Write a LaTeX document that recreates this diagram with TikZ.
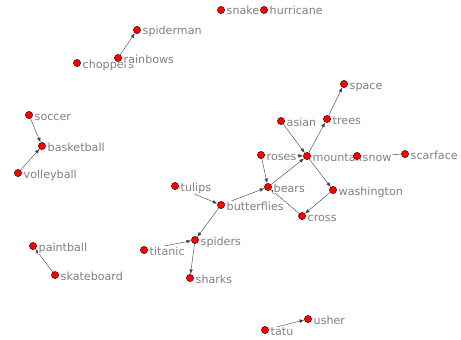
\documentclass[tikz,border=0pt]{standalone}
\usepackage{fontspec}
\setmainfont{DejaVu Sans}
\usetikzlibrary{arrows.meta}
\pgfdeclarelayer{edges}
\pgfdeclarelayer{labels}
\pgfsetlayers{edges,labels,main}

\begin{document}
\begin{tikzpicture}[x=0.03cm,y=-0.03cm,
    vertex/.style={circle,draw=black,fill=red,inner sep=0pt,minimum size=0.22cm,line width=0.3pt},
    word/.style={anchor=base west,fill=white,text=black!50,inner sep=0.4pt,font=\fontsize{9.5}{10}\selectfont},
    link/.style={-{Latex[length=4pt,width=3pt]},draw=black!75,line width=0.35pt}]
    \useasboundingbox (0,0) rectangle (461,339);
    % vertices
    \node[vertex] (snake) at (221,10) {};
    \node[vertex] (hurricane) at (264,10) {};
    \node[vertex] (spiderman) at (137,30) {};
    \node[vertex] (choppers) at (77,63) {};
    \node[vertex] (rainbows) at (118,58) {};
    \node[vertex] (space) at (344,84) {};
    \node[vertex] (trees) at (327,119) {};
    \node[vertex] (asian) at (281,121) {};
    \node[vertex] (mountain) at (307,156) {};
    \node[vertex] (roses) at (261,155) {};
    \node[vertex] (snow) at (357,156) {};
    \node[vertex] (scarface) at (405,154) {};
    \node[vertex] (bears) at (268,187) {};
    \node[vertex] (washington) at (333,190) {};
    \node[vertex] (tulips) at (175,186) {};
    \node[vertex] (butterflies) at (221,205) {};
    \node[vertex] (cross) at (302,216) {};
    \node[vertex] (soccer) at (29,115) {};
    \node[vertex] (basketball) at (42,146) {};
    \node[vertex] (volleyball) at (18,173) {};
    \node[vertex] (paintball) at (33,246) {};
    \node[vertex] (skateboard) at (55,275) {};
    \node[vertex] (titanic) at (144,250) {};
    \node[vertex] (spiders) at (195,240) {};
    \node[vertex] (sharks) at (190,278) {};
    \node[vertex] (tatu) at (265,330) {};
    \node[vertex] (usher) at (308,319) {};
    % labels
    \begin{pgfonlayer}{labels}
    \node[word] (snake-t) at ([shift={(5,5)}]snake) {snake};
    \node[word] (hurricane-t) at ([shift={(5,5)}]hurricane) {hurricane};
    \node[word] (spiderman-t) at ([shift={(5,5)}]spiderman) {spiderman};
    \node[word] (choppers-t) at ([shift={(5,5)}]choppers) {choppers};
    \node[word] (rainbows-t) at ([shift={(5,5)}]rainbows) {rainbows};
    \node[word] (space-t) at ([shift={(5,5)}]space) {space};
    \node[word] (trees-t) at ([shift={(5,5)}]trees) {trees};
    \node[word] (asian-t) at ([shift={(5,5)}]asian) {asian};
    \node[word] (mountain-t) at ([shift={(5,5)}]mountain) {mountain};
    \node[word] (roses-t) at ([shift={(5,5)}]roses) {roses};
    \node[word] (snow-t) at ([shift={(5,5)}]snow) {snow};
    \node[word] (scarface-t) at ([shift={(5,5)}]scarface) {scarface};
    \node[word] (bears-t) at ([shift={(5,5)}]bears) {bears};
    \node[word] (washington-t) at ([shift={(5,5)}]washington) {washington};
    \node[word] (tulips-t) at ([shift={(5,5)}]tulips) {tulips};
    \node[word] (butterflies-t) at ([shift={(5,5)}]butterflies) {butterflies};
    \node[word] (cross-t) at ([shift={(5,5)}]cross) {cross};
    \node[word] (soccer-t) at ([shift={(5,5)}]soccer) {soccer};
    \node[word] (basketball-t) at ([shift={(5,5)}]basketball) {basketball};
    \node[word] (volleyball-t) at ([shift={(5,5)}]volleyball) {volleyball};
    \node[word] (paintball-t) at ([shift={(5,5)}]paintball) {paintball};
    \node[word] (skateboard-t) at ([shift={(5,5)}]skateboard) {skateboard};
    \node[word] (titanic-t) at ([shift={(5,5)}]titanic) {titanic};
    \node[word] (spiders-t) at ([shift={(5,5)}]spiders) {spiders};
    \node[word] (sharks-t) at ([shift={(5,5)}]sharks) {sharks};
    \node[word] (tatu-t) at ([shift={(5,5)}]tatu) {tatu};
    \node[word] (usher-t) at ([shift={(5,5)}]usher) {usher};
    \end{pgfonlayer}
    % links
    \begin{pgfonlayer}{edges}
    \draw[link] (rainbows) -- (spiderman);
    \draw[link] (soccer) -- (basketball);
    \draw[link] (volleyball) -- (basketball);
    \draw[link] (skateboard) -- (paintball);
    \draw[link] (titanic) -- (spiders);
    \draw[link] (butterflies) -- (spiders);
    \draw[link] (spiders) -- (sharks);
    \draw[link] (tulips) -- (butterflies);
    \draw[link] (butterflies) -- (bears);
    \draw[link] (roses) -- (bears);
    \draw[link] (roses) -- (mountain);
    \draw[link] (bears) -- (mountain);
    \draw[link] (asian) -- (mountain);
    \draw[link] (snow) -- (mountain);
    \draw[link] (scarface) -- (snow);
    \draw[link] (mountain) -- (trees);
    \draw[link] (trees) -- (space);
    \draw[link] (mountain) -- (washington);
    \draw[link] (washington) -- (cross);
    \draw[link] (cross) -- (bears);
    \draw[link] (tatu) -- (usher);
    \end{pgfonlayer}
\end{tikzpicture}
\end{document}
